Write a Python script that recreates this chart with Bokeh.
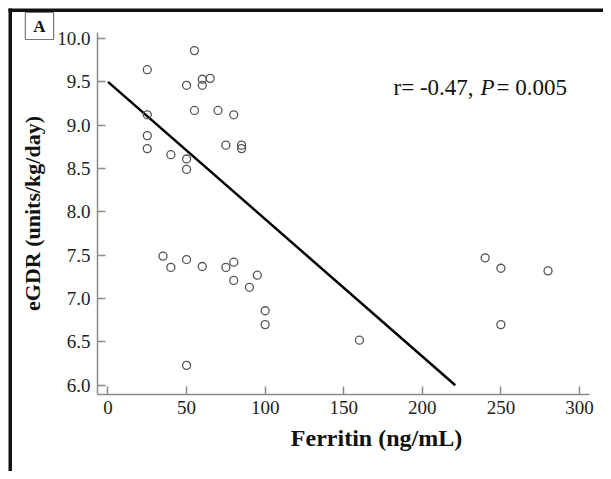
from bokeh.plotting import figure
from bokeh.models import Label, Range1d, FixedTicker, BoxAnnotation, LinearAxis
from bokeh.embed import file_html
from bokeh.resources import INLINE

# data
ferritin = [55, 25, 50, 60, 60, 65, 55, 70, 80, 25, 25, 25, 40, 50, 50, 75, 85, 85,
            35, 40, 50, 60, 75, 80, 80, 90, 95, 100, 100, 50,
            160, 240, 250, 250, 280]
egdr = [9.86, 9.64, 9.46, 9.53, 9.46, 9.54, 9.17, 9.17, 9.12, 9.12, 8.88, 8.73, 8.66, 8.61, 8.49, 8.77, 8.77, 8.73,
        7.49, 7.36, 7.45, 7.37, 7.36, 7.42, 7.21, 7.13, 7.27, 6.86, 6.70, 6.23,
        6.52, 7.47, 7.35, 6.70, 7.32]
fit_x = [0, 221]
fit_y = [9.5, 6.0]
x_ticks = [0, 50, 100, 150, 200, 250, 300]
y_ticks = [6.0, 6.5, 7.0, 7.5, 8.0, 8.5, 9.0, 9.5, 10.0]

SERIF = "Liberation Serif"
X_LO, X_HI = -6.68, 306.4     # extent of the drawn x axis
Y_LO, Y_HI = 5.896, 10.07     # extent of the drawn y axis

W, H = 603, 471
p = figure(width=W, height=H, output_backend="svg", toolbar_location=None,
           x_range=Range1d(-68.4, 315.3), y_range=Range1d(5.006, 10.438),
           x_axis_type=None, y_axis_type=None,
           min_border_left=0, min_border_right=0, min_border_top=0, min_border_bottom=0)
p.outline_line_color = None
p.xgrid.visible = False
p.ygrid.visible = False

xaxis = LinearAxis(fixed_location=Y_LO, bounds=(X_LO, X_HI), ticker=FixedTicker(ticks=x_ticks))
yaxis = LinearAxis(fixed_location=X_LO, bounds=(Y_LO, Y_HI), ticker=FixedTicker(ticks=y_ticks))
p.add_layout(xaxis, "below")
p.add_layout(yaxis, "left")

for ax in (xaxis, yaxis):
    ax.axis_line_color = "#8a8a8a"
    ax.axis_line_width = 1.5
    ax.major_tick_line_color = "#8a8a8a"
    ax.major_tick_line_width = 1.5
    ax.major_tick_in = 8
    ax.major_tick_out = 0
    ax.minor_tick_line_color = None
    ax.major_label_text_font = SERIF
    ax.major_label_text_font_size = "19px"
    ax.major_label_text_color = "#222222"

xaxis.major_label_overrides = {t: str(t) for t in x_ticks}
yaxis.major_label_overrides = {t: f"{t:.1f}" for t in y_ticks}
xaxis.major_label_standoff = 7
yaxis.major_label_standoff = 7

yaxis.axis_label = "eGDR (units/kg/day)"
yaxis.axis_label_text_font = SERIF
yaxis.axis_label_text_font_style = "bold"
yaxis.axis_label_text_font_size = "22px"
yaxis.axis_label_text_color = "#111111"
yaxis.axis_label_standoff = 9

p.line(fit_x, fit_y, line_color="#000000", line_width=2.5)
p.scatter(ferritin, egdr, marker="circle", size=8, fill_color=None,
          line_color="#555555", line_width=1.3)

# thick panel frame (left and top)
p.add_layout(BoxAnnotation(left=8, right=11.5, top=H - 8, bottom=0,
                           left_units="screen", right_units="screen",
                           top_units="screen", bottom_units="screen",
                           fill_color="#111111", fill_alpha=1, line_color=None))
p.add_layout(BoxAnnotation(left=8, right=W, top=H - 8, bottom=H - 11.5,
                           left_units="screen", right_units="screen",
                           top_units="screen", bottom_units="screen",
                           fill_color="#111111", fill_alpha=1, line_color=None))

# x axis title (placed right of centre as in the reference)
p.add_layout(Label(x=376, y=H - 437, x_units="screen", y_units="screen",
                   text="Ferritin (ng/mL)", text_font=SERIF, text_font_style="bold",
                   text_font_size="24px", text_color="#111111",
                   text_align="center", text_baseline="middle"))

# correlation annotation
p.add_layout(Label(x=393, y=H - 87, x_units="screen", y_units="screen",
                   text="r= -0.47,", text_font=SERIF, text_font_size="23px",
                   text_color="#111111", text_baseline="alphabetic"))
p.add_layout(Label(x=480, y=H - 87, x_units="screen", y_units="screen",
                   text="P", text_font=SERIF, text_font_style="italic", text_font_size="23px",
                   text_color="#111111", text_baseline="alphabetic"))
p.add_layout(Label(x=496, y=H - 87, x_units="screen", y_units="screen",
                   text="= 0.005", text_font=SERIF, text_font_size="23px",
                   text_color="#111111", text_baseline="alphabetic"))

# panel letter
p.add_layout(Label(x=39, y=H - 25.5, x_units="screen", y_units="screen",
                   text="A", text_font=SERIF, text_font_style="bold", text_font_size="17px",
                   text_color="#111111", text_align="center", text_baseline="middle",
                   border_line_color="#777777", border_line_width=1.2,
                   background_fill_color="white",
                   padding=dict(left=8, right=8, top=4, bottom=4)))

open("out.html", "w").write(file_html(p, INLINE))
